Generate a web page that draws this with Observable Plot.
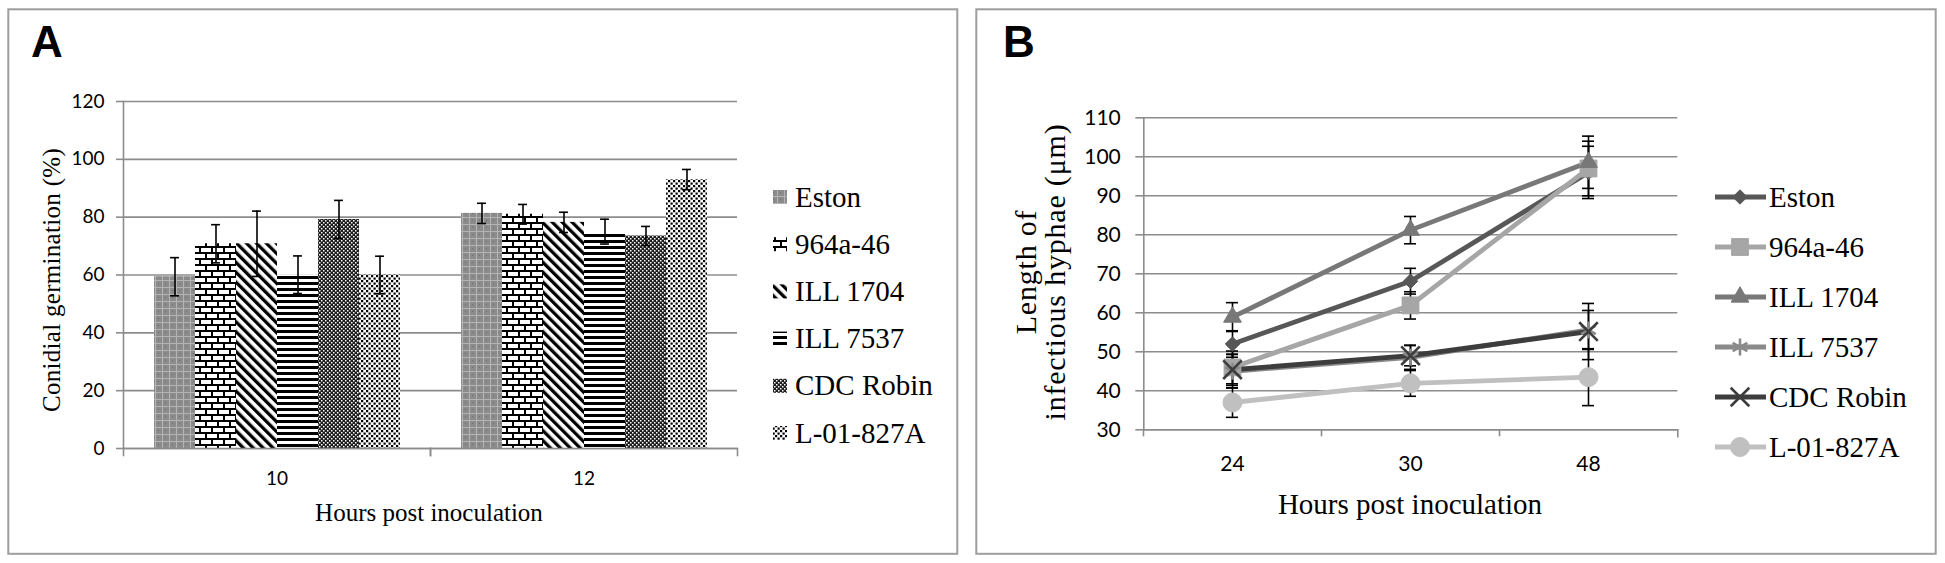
<!DOCTYPE html>
<html>
<head>
<meta charset="utf-8">
<script src="https://cdn.jsdelivr.net/npm/d3@7"></script>
<script src="https://cdn.jsdelivr.net/npm/@observablehq/plot@0.6"></script>
<style>
  html, body { margin: 0; padding: 0; background: #ffffff; }
  #root { position: relative; width: 1945px; height: 563px; overflow: hidden; background: #ffffff; }
  #root > svg { position: absolute; }
</style>
</head>
<body>
<div id="root"></div>
<svg width="0" height="0" style="position:absolute;left:0;top:0">
  <defs>
    <pattern id="pEston" width="7" height="7" patternUnits="userSpaceOnUse">
      <rect width="7" height="7" fill="#8b8b8b"/>
      <rect x="0" y="0" width="7" height="1" fill="#b4b4b4"/>
      <rect x="0" y="0" width="1" height="7" fill="#b4b4b4"/>
      <rect x="3" y="3" width="1" height="1" fill="#6e6e6e"/>
    </pattern>
    <pattern id="pBrick" width="12" height="12" patternUnits="userSpaceOnUse">
      <rect width="12" height="12" fill="#ffffff"/>
      <rect x="0" y="0" width="12" height="2" fill="#000"/>
      <rect x="0" y="6" width="12" height="2" fill="#000"/>
      <rect x="0" y="2" width="2" height="4" fill="#000"/>
      <rect x="6" y="8" width="2" height="4" fill="#000"/>
    </pattern>
    <pattern id="pDiag" width="7" height="7" patternUnits="userSpaceOnUse" patternTransform="rotate(-45)">
      <rect width="7" height="7" fill="#ffffff"/>
      <rect x="0" y="0" width="3.3" height="7" fill="#000"/>
    </pattern>
    <pattern id="pHoriz" width="6" height="6" patternUnits="userSpaceOnUse">
      <rect width="6" height="6" fill="#ffffff"/>
      <rect x="0" y="0" width="6" height="3" fill="#000"/>
    </pattern>
    <pattern id="pDark" width="4" height="4" patternUnits="userSpaceOnUse">
      <rect width="4" height="4" fill="#1c1c1c"/>
      <rect x="0" y="0" width="1.5" height="1.5" fill="#ffffff"/>
      <rect x="2" y="2" width="1.5" height="1.5" fill="#ffffff"/>
    </pattern>
    <pattern id="pDots" width="5" height="5" patternUnits="userSpaceOnUse">
      <rect width="5" height="5" fill="#ffffff"/>
      <rect x="0" y="0" width="2.2" height="2.2" fill="#000"/>
      <rect x="2.5" y="2.5" width="2.2" height="2.2" fill="#000"/>
    </pattern>
  </defs>
</svg>
<script>
// ---------------- DATA ----------------
// Panel A: conidial germination (%)
const seriesA = ["Eston", "964a-46", "ILL 1704", "ILL 7537", "CDC Robin", "L-01-827A"];
const hoursA = ["10", "12"];
const germ10 = [59.4, 70.8, 70.8, 60.1, 79.2, 60.0];
const germ10Err = [6.6, 6.6, 11.3, 6.5, 6.6, 6.5];
const germ12 = [81.3, 81.0, 78.2, 75.0, 73.5, 93.0];
const germ12Err = [3.5, 3.4, 3.5, 4.3, 3.3, 3.5];
const yTicksA = [0, 20, 40, 60, 80, 100, 120];

// Panel B: length of infectious hyphae (µm)
const seriesB = ["Eston", "964a-46", "ILL 1704", "ILL 7537", "CDC Robin", "L-01-827A"];
const hoursB = ["24", "30", "48"];
const lenEston = [52.0, 68.1, 96.0];
const lenEstonErr = [3.4, 3.3, 6.7];
const len964 = [46.0, 61.9, 97.0];
const len964Err = [4.2, 3.5, 7.0];
const len1704 = [58.9, 81.2, 98.6];
const len1704Err = [3.7, 3.5, 6.7];
const len7537 = [45.0, 48.6, 55.6];
const len7537Err = [4.3, 3.1, 5.0];
const lenCDC = [45.4, 49.0, 55.2];
const lenCDCErr = [4.0, 2.6, 7.2];
const lenL01 = [37.0, 41.9, 43.5];
const lenL01Err = [3.8, 3.3, 7.3];
const yTicksB = [30, 40, 50, 60, 70, 80, 90, 100, 110];

// ---------------- STYLES ----------------
const patternIds = ["pEston", "pBrick", "pDiag", "pHoriz", "pDark", "pDots"];
const lineColors = ["#575757", "#a6a6a6", "#787878", "#8a8a8a", "#3d3d3d", "#c0c0c0"];
const markerSymbols = ["diamond2", "square", "triangle", "asterisk", "times", "circle"];
const markerR = [6.5, 9.5, 6.6, 8, 8.5, 9.5];
const gridColor = "#8c8c8c";
const tickFont = "Lato, 'Open Sans', sans-serif";
const serifFont = "'Liberation Serif', 'DejaVu Serif', serif";

// ---------------- TABLES ----------------
const germVals = [germ10, germ12], germErrs = [germ10Err, germ12Err];
const dataA = hoursA.flatMap((h, gi) => seriesA.map((s, i) => ({
  hour: h, series: s, value: germVals[gi][i], err: germErrs[gi][i]
})));
const lenVals = [lenEston, len964, len1704, len7537, lenCDC, lenL01];
const lenErrs = [lenEstonErr, len964Err, len1704Err, len7537Err, lenCDCErr, lenL01Err];
const dataB = seriesB.flatMap((s, i) => hoursB.map((h, j) => ({
  series: s, hour: h, value: lenVals[i][j], err: lenErrs[i][j]
})));

const root = document.getElementById("root");

// ---------------- PANEL A ----------------
const A = {width: 960, height: 563, mL: 122, mR: 223, mT: 101, mB: 115};
const plotHA = A.height - A.mT - A.mB;
const outerPadA = 0.74;
const stepA = (A.width - A.mL - A.mR) / hoursA.length / (seriesA.length + 2 * outerPadA);
const capInsetA = (stepA - 9) / 2;

const plotA = Plot.plot({
  width: A.width, height: A.height,
  marginLeft: A.mL, marginRight: A.mR, marginTop: A.mT, marginBottom: A.mB,
  style: {fontFamily: tickFont, background: "transparent", color: "#000"},
  fx: {domain: hoursA, padding: 0, axis: null},
  x: {domain: seriesA, paddingInner: 0, paddingOuter: outerPadA, axis: null},
  y: {domain: [0, 120], axis: null},
  color: {type: "ordinal", domain: seriesA, range: patternIds.map(id => `url(#${id})`)},
  marks: [
    Plot.gridY(yTicksA, {stroke: gridColor, strokeOpacity: 1, strokeWidth: 1.6}),
    Plot.barY(dataA, {fx: "hour", x: "series", y: "value", fill: "series"}),
    Plot.ruleX(dataA, {fx: "hour", x: "series", y1: d => d.value - d.err, y2: d => d.value + d.err, stroke: "#000", strokeWidth: 1.6}),
    Plot.tickY(dataA, {fx: "hour", x: "series", y: d => d.value + d.err, stroke: "#000", strokeWidth: 1.6, insetLeft: capInsetA, insetRight: capInsetA}),
    Plot.tickY(dataA, {fx: "hour", x: "series", y: d => d.value - d.err, stroke: "#000", strokeWidth: 1.6, insetLeft: capInsetA, insetRight: capInsetA}),
    Plot.ruleY([0], {stroke: gridColor, strokeWidth: 1.6}),
    Plot.frame({anchor: "left", facetAnchor: "left", stroke: gridColor, strokeWidth: 1.6}),
    Plot.frame({anchor: "left", stroke: gridColor, strokeWidth: 1.6, insetTop: plotHA, insetBottom: -7}),
    Plot.frame({anchor: "right", stroke: gridColor, strokeWidth: 1.6, insetTop: plotHA, insetBottom: -7}),
    Plot.axisY(yTicksA, {tickSize: 7, tickPadding: 12, fontSize: 19, stroke: gridColor, strokeWidth: 1.6, fill: "#000", label: null}),
    Plot.axisFx({anchor: "bottom", tickSize: 0, tickPadding: 23, fontSize: 19, fill: "#000", label: null})
  ]
});
plotA.style.left = "0px";
plotA.style.top = "0px";
root.appendChild(plotA);

// ---------------- PANEL B ----------------
const B = {left: 960, width: 985, height: 563, mL: 183.3, mR: 267.7, mT: 117.3, mB: 133.7};
const plotHB = B.height - B.mT - B.mB;
const stepB = (B.width - B.mL - B.mR) / hoursB.length;
const capInsetB = (stepB - 12) / 2;

const plotB = Plot.plot({
  width: B.width, height: B.height,
  marginLeft: B.mL, marginRight: B.mR, marginTop: B.mT, marginBottom: B.mB,
  style: {fontFamily: tickFont, background: "transparent", color: "#000"},
  x: {type: "band", domain: hoursB, padding: 0, axis: null},
  y: {domain: [30, 110], axis: null},
  color: {type: "ordinal", domain: seriesB, range: lineColors},
  symbol: {domain: seriesB, range: markerSymbols},
  marks: [
    Plot.gridY(yTicksB, {stroke: gridColor, strokeOpacity: 1, strokeWidth: 1.6}),
    Plot.ruleY([30], {stroke: gridColor, strokeWidth: 1.6}),
    Plot.frame({anchor: "left", stroke: gridColor, strokeWidth: 1.6}),
    Plot.ruleX(hoursB, {x: d => d, dx: -stepB / 2, stroke: gridColor, strokeWidth: 1.6, insetTop: plotHB, insetBottom: -7}),
    Plot.frame({anchor: "right", stroke: gridColor, strokeWidth: 1.6, insetTop: plotHB, insetBottom: -7}),
    Plot.line(dataB, {x: "hour", y: "value", z: "series", stroke: "series", strokeWidth: 4.8, strokeLinejoin: "round"}),
    Plot.ruleX(dataB, {x: "hour", y1: d => d.value - d.err, y2: d => d.value + d.err, stroke: "#000", strokeWidth: 1.6}),
    Plot.tickY(dataB, {x: "hour", y: d => d.value + d.err, stroke: "#000", strokeWidth: 1.6, insetLeft: capInsetB, insetRight: capInsetB}),
    Plot.tickY(dataB, {x: "hour", y: d => d.value - d.err, stroke: "#000", strokeWidth: 1.6, insetLeft: capInsetB, insetRight: capInsetB}),
    ...seriesB.map((s, i) => Plot.dot(dataB.filter(d => d.series === s), {
      x: "hour", y: "value", symbol: "series", fill: "series", stroke: "series",
      strokeWidth: (markerSymbols[i] === "times" || markerSymbols[i] === "asterisk") ? 2.6 : 1,
      r: markerR[i]
    })),
    Plot.axisY(yTicksB, {tickSize: 8, tickPadding: 15, fontSize: 21, stroke: gridColor, strokeWidth: 1.6, fill: "#000", label: null}),
    Plot.axisX({anchor: "bottom", tickSize: 0, tickPadding: 26, fontSize: 21, fill: "#000", label: null})
  ]
});
plotB.style.left = B.left + "px";
plotB.style.top = "0px";
root.appendChild(plotB);

// ---------------- OVERLAY: frames, panel letters, titles, legends ----------------
const ov = d3.create("svg").attr("width", 1945).attr("height", 563)
  .style("left", "0px").style("top", "0px").style("pointer-events", "none");

ov.append("rect").attr("x", 8.3).attr("y", 9.3).attr("width", 949).attr("height", 544.5)
  .attr("fill", "none").attr("stroke", "#9e9e9e").attr("stroke-width", 2);
ov.append("rect").attr("x", 976.3).attr("y", 9.3).attr("width", 959.4).attr("height", 544.5)
  .attr("fill", "none").attr("stroke", "#9e9e9e").attr("stroke-width", 2);

ov.append("text").attr("x", 31).attr("y", 57).text("A")
  .attr("font-family", "'Liberation Sans', Arial, sans-serif").attr("font-weight", "bold").attr("font-size", 44);
ov.append("text").attr("x", 1003).attr("y", 57).text("B")
  .attr("font-family", "'Liberation Sans', Arial, sans-serif").attr("font-weight", "bold").attr("font-size", 44);

// Axis titles
ov.append("text").attr("x", 429).attr("y", 521).attr("text-anchor", "middle")
  .attr("font-family", serifFont).attr("font-size", 25).text("Hours post inoculation");
ov.append("text").attr("transform", "translate(60,280) rotate(-90)").attr("text-anchor", "middle")
  .attr("font-family", serifFont).attr("font-size", 25).attr("letter-spacing", 0.3)
  .text("Conidial germination (%)");

ov.append("text").attr("x", 1410).attr("y", 514).attr("text-anchor", "middle")
  .attr("font-family", serifFont).attr("font-size", 29).text("Hours post inoculation");
ov.append("text").attr("transform", "translate(1036,272) rotate(-90)").attr("text-anchor", "middle")
  .attr("font-family", serifFont).attr("font-size", 30).attr("letter-spacing", 0.8)
  .text("Length of");
ov.append("text").attr("transform", "translate(1065,272) rotate(-90)").attr("text-anchor", "middle")
  .attr("font-family", serifFont).attr("font-size", 30).attr("letter-spacing", 0.8)
  .text("infectious hyphae (\u03bcm)");

// Legend A (patterned swatches)
const legA = {x: 773, y0: 197, dy: 47.2, sw: 14, tx: 795};
seriesA.forEach((s, i) => {
  const cy = legA.y0 + i * legA.dy;
  ov.append("rect").attr("x", legA.x).attr("y", cy - legA.sw / 2).attr("width", legA.sw).attr("height", legA.sw)
    .attr("fill", `url(#${patternIds[i]})`);
  ov.append("text").attr("x", legA.tx).attr("y", cy + 9.5)
    .attr("font-family", serifFont).attr("font-size", 29).text(s);
});

// Legend B (line + marker)
const legB = {x1: 1715, x2: 1766, mx: 1740, y0: 197, dy: 50, tx: 1769};
const symbolMap = {diamond2: d3.symbolDiamond2, square: d3.symbolSquare, triangle: d3.symbolTriangle,
  asterisk: d3.symbolAsterisk, times: d3.symbolTimes, circle: d3.symbolCircle};
seriesB.forEach((s, i) => {
  const cy = legB.y0 + i * legB.dy;
  ov.append("line").attr("x1", legB.x1).attr("x2", legB.x2).attr("y1", cy).attr("y2", cy)
    .attr("stroke", lineColors[i]).attr("stroke-width", 4.8);
  const stroked = markerSymbols[i] === "times" || markerSymbols[i] === "asterisk";
  ov.append("path").attr("transform", `translate(${legB.mx},${cy})`)
    .attr("d", d3.symbol(symbolMap[markerSymbols[i]], Math.PI * markerR[i] * markerR[i])())
    .attr("fill", stroked ? "none" : lineColors[i]).attr("stroke", lineColors[i])
    .attr("stroke-width", stroked ? 2.6 : 1);
  ov.append("text").attr("x", legB.tx).attr("y", cy + 9.5)
    .attr("font-family", serifFont).attr("font-size", 29).text(s);
});

root.appendChild(ov.node());
</script>
</body>
</html>
